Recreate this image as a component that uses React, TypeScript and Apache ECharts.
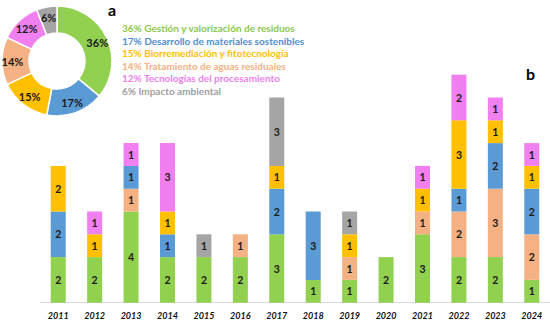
import React, { useEffect, useRef } from "react";
import * as echarts from "echarts";

const years = ["2011","2012","2013","2014","2015","2016","2017","2018","2019","2020","2021","2022","2023","2024"];
const gestion =      [2,2,4,2,2,2,3,1,1,2,3,2,2,1];
const tratamiento =  [0,0,1,0,0,1,0,0,1,0,1,2,3,2];
const desarrollo =   [2,0,1,1,0,0,2,3,0,0,0,1,2,2];
const biorremed =    [2,1,0,1,0,0,1,0,1,0,1,3,1,1];
const tecnologias =  [0,1,1,3,0,0,0,0,0,0,1,2,1,1];
const impacto =      [0,0,0,0,1,0,3,0,1,0,0,0,0,0];

const pieNames = [
  "Gestión y valorización de residuos",
  "Desarrollo de materiales sostenibles",
  "Biorremediación y fitotecnología",
  "Tratamiento de aguas residuales",
  "Tecnologías del procesamiento",
  "Impacto ambiental",
];
const pieValues = [36, 17, 15, 14, 12, 6];
const pieColors = ["#92D050", "#5B9BD5", "#FFC000", "#F4B183", "#F07FF0", "#A5A5A5"];
const legendColors = ["#8CC850", "#4F8FCF", "#FFC000", "#F4B183", "#EE7FEE", "#A0A0A0"];

const C = {
  green: "#92D050",
  salmon: "#F4B183",
  blue: "#5B9BD5",
  yellow: "#FFC000",
  pink: "#F07FF0",
  gray: "#A5A5A5",
};

const FONT = "Lato";

export default function App() {
  const ref = useRef<HTMLDivElement>(null);
  useEffect(() => {
    document.body.style.margin = "0";
    const chart = echarts.init(ref.current!, undefined, { renderer: "svg" });
    const mk = (name: string, data: number[], color: string) => ({
      name,
      type: "bar",
      stack: "s",
      data,
      barWidth: 15,
      itemStyle: { color },
      label: {
        show: true,
        position: "inside",
        formatter: (p: any) => (p.value ? String(p.value) : ""),
        fontFamily: FONT,
        fontWeight: "bold",
        fontSize: 10.5,
        color: "#1a1a1a",
      },
    });
    chart.setOption({
      animation: false,
      grid: { left: 40, right: -2, top: 74.7, bottom: 19.3 },
      xAxis: {
        type: "category",
        data: years,
        axisLine: { show: true, lineStyle: { color: "#d9d9d9" } },
        axisTick: { show: false },
        axisLabel: {
          fontFamily: FONT,
          fontWeight: "bold",
          fontStyle: "italic",
          fontSize: 9,
          color: "#111",
          margin: 8,
        },
      },
      yAxis: { type: "value", min: 0, max: 10, show: false },
      series: [
        mk("Gestión", gestion, C.green),
        mk("Tratamiento", tratamiento, C.salmon),
        mk("Desarrollo", desarrollo, C.blue),
        mk("Biorremediación", biorremed, C.yellow),
        mk("Tecnologías", tecnologias, C.pink),
        mk("Impacto", impacto, C.gray),
        {
          type: "pie",
          center: [57, 61],
          radius: [28, 55],
          startAngle: 90,
          clockwise: true,
          itemStyle: { borderColor: "#fff", borderWidth: 1.5 },
          label: {
            show: true,
            position: "inside",
            formatter: "{c}%",
            fontFamily: FONT,
            fontWeight: "bold",
            fontSize: 11,
            color: "#1a1a1a",
          },
          labelLine: { show: false },
          data: pieValues.map((v, i) => ({ value: v, name: pieNames[i], itemStyle: { color: pieColors[i] } })),
        },
      ],
      graphic: [
        ...pieNames.map((n, i) => ({
          type: "text",
          left: 122,
          top: 23 + i * 12.6,
          style: {
            text: `${pieValues[i]}% ${n}`,
            fill: legendColors[i],
            font: `bold 10px ${FONT}`,
          },
        })),
        { type: "text", left: 108, top: 1, style: { text: "a", fill: "#000", font: `bold 16px ${FONT}` } },
        { type: "text", left: 526, top: 65, style: { text: "b", fill: "#000", font: `bold 16px ${FONT}` } },
      ],
    });
    return () => chart.dispose();
  }, []);
  return <div ref={ref} style={{ width: 550, height: 322 }} />;
}
